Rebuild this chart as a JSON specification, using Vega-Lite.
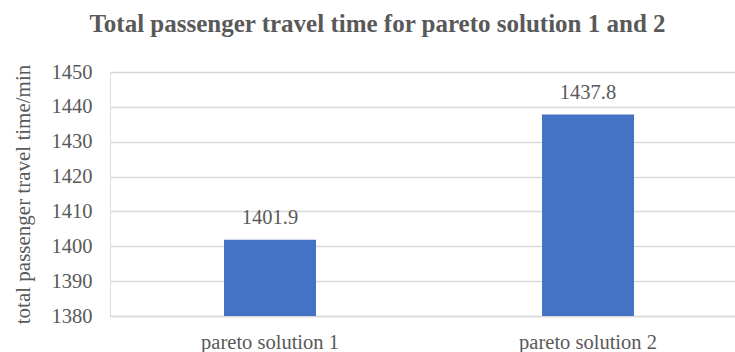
{
  "$schema": "https://vega.github.io/schema/vega-lite/v6.json",
  "autosize": {"type": "none"},
  "padding": {"left": 110, "top": 72, "right": 0, "bottom": 36},
  "width": 625,
  "height": 244,
  "background": "white",
  "title": {
    "text": "Total passenger travel time for pareto solution 1 and 2",
    "font": "Liberation Serif",
    "fontSize": 25,
    "fontWeight": "bold",
    "color": "#595959",
    "anchor": "middle",
    "dx": -45,
    "offset": 25
  },
  "data": {
    "values": [
      {"solution": "pareto solution 1", "time": 1401.9},
      {"solution": "pareto solution 2", "time": 1437.8}
    ]
  },
  "encoding": {
    "x": {
      "field": "solution",
      "type": "nominal",
      "sort": null,
      "scale": {"paddingInner": 0.5, "paddingOuter": 0.2327, "align": 0.544},
      "axis": {
        "title": null,
        "labelAngle": 0,
        "labelFont": "Liberation Serif",
        "labelFontSize": 20.5,
        "labelColor": "#595959",
        "labelPadding": 16,
        "ticks": false,
        "grid": false,
        "domainColor": "#d9d9d9",
        "domainWidth": 1.3
      }
    },
    "y": {
      "field": "time",
      "type": "quantitative",
      "scale": {"domain": [1380, 1450], "zero": false, "nice": false},
      "axis": {
        "title": "total passenger travel time/min",
        "values": [1380, 1390, 1400, 1410, 1420, 1430, 1440, 1450],
        "format": "d",
        "grid": true,
        "gridColor": "#d9d9d9",
        "gridWidth": 1.3,
        "domain": false,
        "ticks": false,
        "labelFont": "Liberation Serif",
        "labelFontSize": 20.5,
        "labelColor": "#595959",
        "labelPadding": 18,
        "titleFont": "Liberation Serif",
        "titleFontSize": 21,
        "titleFontWeight": "normal",
        "titleColor": "#595959",
        "titlePadding": 18
      }
    }
  },
  "layer": [
    {
      "mark": {"type": "bar", "width": 92, "color": "#4472c4"},
      "encoding": {"y2": {"datum": 1380}}
    },
    {
      "mark": {
        "type": "text",
        "baseline": "alphabetic",
        "dy": -16,
        "font": "Liberation Serif",
        "fontSize": 20.5,
        "color": "#595959"
      },
      "encoding": {"text": {"field": "time", "type": "quantitative", "format": ".1f"}}
    }
  ]
}
